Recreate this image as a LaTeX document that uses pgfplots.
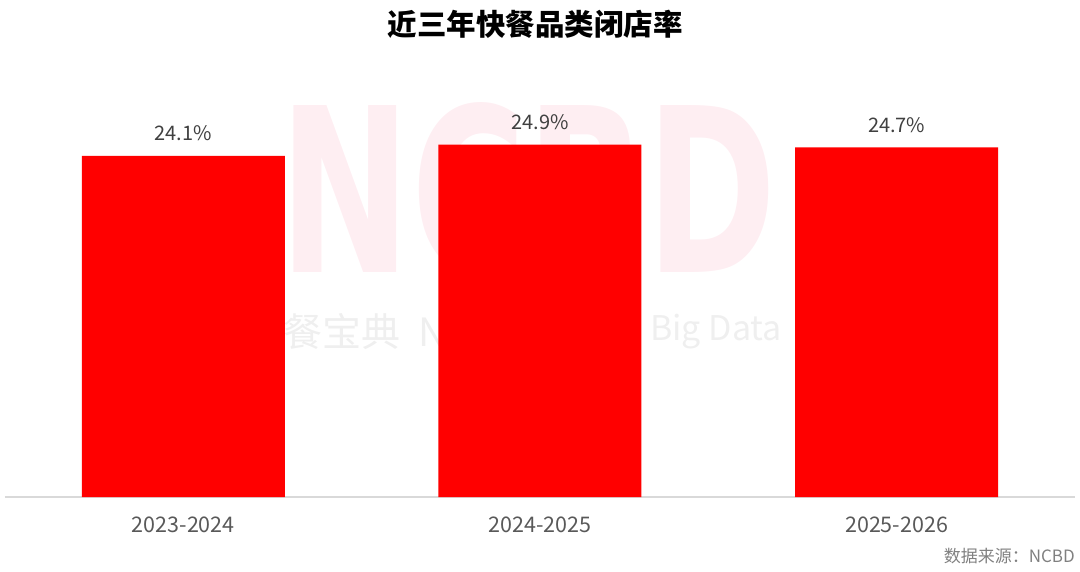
\documentclass[border=0pt]{standalone}
\usepackage{fontspec}
\setmainfont{Noto Sans CJK SC}
\usepackage{pgfplots}
\pgfplotsset{compat=1.18}
\definecolor{barred}{HTML}{FF0000}
\definecolor{wmpink}{HTML}{FEEEF2}
\definecolor{wmgrey}{HTML}{EFEFEF}
\definecolor{valgrey}{HTML}{404040}
\definecolor{tickgrey}{HTML}{595959}
\definecolor{srcgrey}{HTML}{808080}
\definecolor{axgrey}{HTML}{D9D9D9}
\begin{document}
\begin{tikzpicture}[x=1pt,y=1pt]
\useasboundingbox (0,0) rectangle (1080,571);
% watermarks
\node[inner sep=0, anchor=center, text=wmpink] at (528.5,382) {\resizebox{497pt}{170pt}{\fontspec{DejaVu Sans}\bfseries NCBD}};
\node[inner sep=0, anchor=west, text=wmgrey, font=\fontsize{39}{39}\selectfont] at (283,239) {餐宝典\hspace{18pt}NCBD};
\node[inner sep=0, anchor=west, text=wmgrey, font=\fontsize{34}{34}\selectfont] at (650,239) {Big Data};
% title
\node[inner sep=0, anchor=center, font=\fontsize{29.5}{29.5}\selectfont\bfseries] at (535,547) {近三年快餐品类闭店率};
% source
\node[inner sep=0, anchor=east, text=srcgrey, font=\fontsize{17}{17}\selectfont] at (1075,15) {数据来源：NCBD};
\begin{axis}[
  at={(5pt,74pt)}, anchor=south west,
  scale only axis, width=1070pt, height=424.5pt,
  xmin=-0.5, xmax=2.5, ymin=0, ymax=30,
  ybar, bar width=203pt,
  axis x line=bottom, axis y line=none,
  x axis line style={draw=axgrey, line width=1.5pt, -},
  xtick={0,1,2}, xticklabels={2023-2024,2024-2025,2025-2026},
  xtick style={draw=none},
  xticklabel style={font=\fontsize{21.5}{21.5}\selectfont, text=tickgrey, anchor=base, yshift=-33pt},
  ytick=\empty,
  point meta=explicit symbolic,
  nodes near coords,
  nodes near coords style={font=\fontsize{20}{20}\selectfont, text=valgrey, anchor=base, inner sep=0, yshift=15pt},
]
\addplot[fill=barred, draw=none] coordinates {(0,24.1) [24.1\%] (1,24.9) [24.9\%] (2,24.7) [24.7\%]};
\end{axis}
\end{tikzpicture}
\end{document}
